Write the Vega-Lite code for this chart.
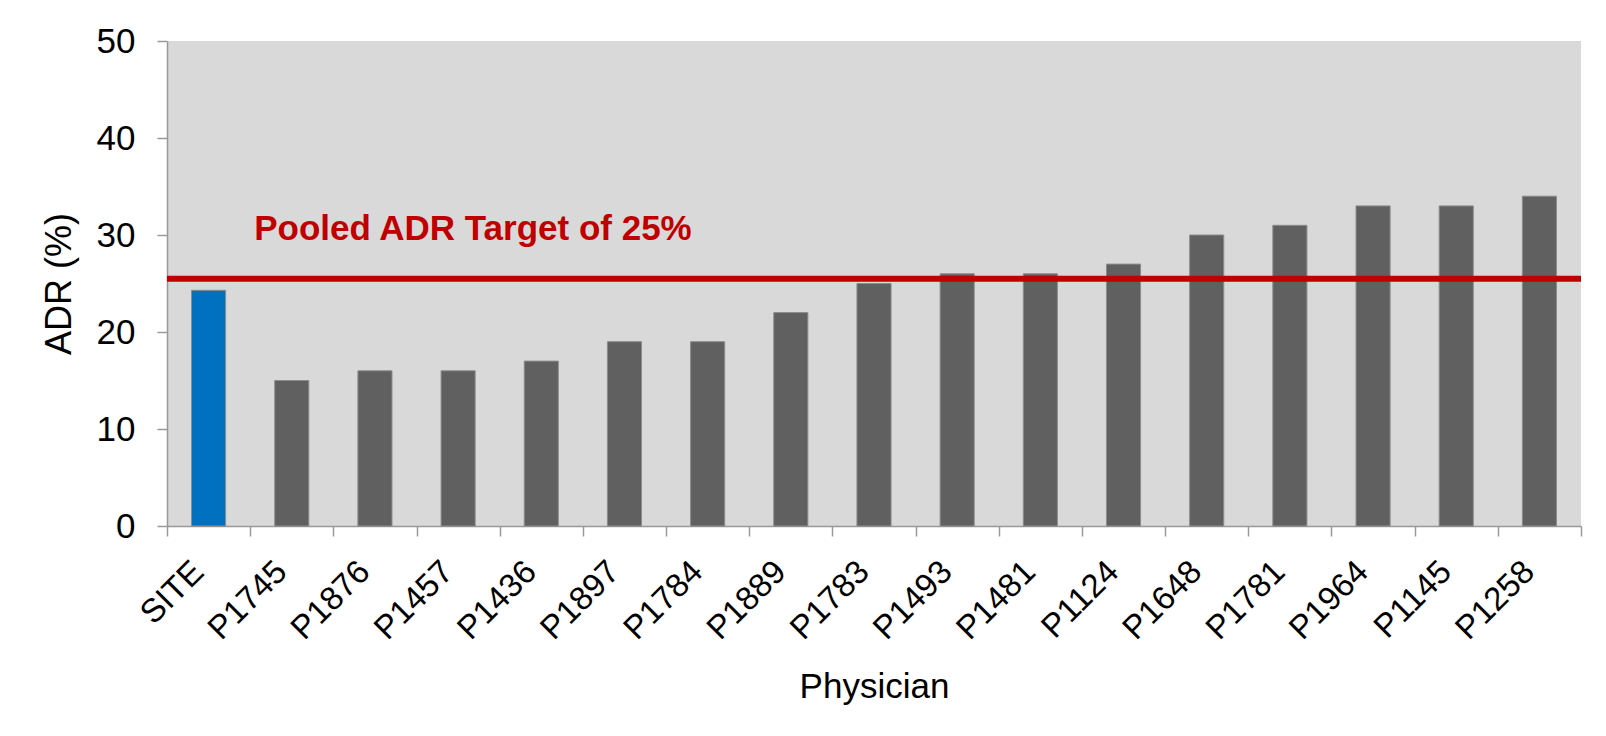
{
  "$schema": "https://vega.github.io/schema/vega-lite/v6.json",
  "autosize": {"type": "none"},
  "padding": {"left": 167, "top": 41, "right": 25, "bottom": 210},
  "width": 1414,
  "height": 485,
  "background": "white",
  "config": {
    "font": "Liberation Sans",
    "view": {"fill": "#d9d9d9", "stroke": null}
  },
  "datasets": {
    "bars": [
      {"physician": "SITE", "adr": 24.3, "group": "site"},
      {"physician": "P1745", "adr": 15, "group": "physician"},
      {"physician": "P1876", "adr": 16, "group": "physician"},
      {"physician": "P1457", "adr": 16, "group": "physician"},
      {"physician": "P1436", "adr": 17, "group": "physician"},
      {"physician": "P1897", "adr": 19, "group": "physician"},
      {"physician": "P1784", "adr": 19, "group": "physician"},
      {"physician": "P1889", "adr": 22, "group": "physician"},
      {"physician": "P1783", "adr": 25, "group": "physician"},
      {"physician": "P1493", "adr": 26, "group": "physician"},
      {"physician": "P1481", "adr": 26, "group": "physician"},
      {"physician": "P1124", "adr": 27, "group": "physician"},
      {"physician": "P1648", "adr": 30, "group": "physician"},
      {"physician": "P1781", "adr": 31, "group": "physician"},
      {"physician": "P1964", "adr": 33, "group": "physician"},
      {"physician": "P1145", "adr": 33, "group": "physician"},
      {"physician": "P1258", "adr": 34, "group": "physician"}
    ],
    "target": [{"value": 25.5}],
    "note": [{"label": "Pooled ADR Target of 25%", "physician": "P1745", "adr": 29.5}]
  },
  "layer": [
    {
      "data": {"name": "bars"},
      "mark": {"type": "bar", "width": {"band": 0.41}, "stroke": "#8c8c8c", "strokeWidth": 1},
      "encoding": {
        "x": {
          "field": "physician", "type": "nominal",
          "scale": {
            "domain": ["SITE", "P1745", "P1876", "P1457", "P1436", "P1897", "P1784", "P1889", "P1783", "P1493", "P1481", "P1124", "P1648", "P1781", "P1964", "P1145", "P1258"],
            "paddingInner": 0, "paddingOuter": 0
          },
          "axis": {
            "title": "Physician",
            "titleFontSize": 35, "titleFontWeight": "normal", "titleColor": "black",
            "titleY": 171, "titleBaseline": "alphabetic",
            "labelAngle": -45, "labelFontSize": 33, "labelColor": "black",
            "labelPadding": 19, "labelOffset": -22,
            "tickBand": "extent", "tickSize": 10, "tickColor": "#999999", "tickWidth": 1.5,
            "domainColor": "#999999", "domainWidth": 1.5
          }
        },
        "y": {
          "field": "adr", "type": "quantitative",
          "scale": {"domain": [0, 50], "nice": false},
          "axis": {
            "title": "ADR (%)",
            "values": [0, 10, 20, 30, 40, 50],
            "grid": false,
            "titleFontSize": 36, "titleFontWeight": "normal", "titleColor": "black",
            "titlePadding": 18,
            "labelFontSize": 35, "labelColor": "black", "labelPadding": 22,
            "tickSize": 10, "tickColor": "#999999", "tickWidth": 1.5,
            "domainColor": "#999999", "domainWidth": 1.5
          }
        },
        "color": {
          "field": "group", "type": "nominal",
          "scale": {"domain": ["site", "physician"], "range": ["#0070c0", "#606060"]},
          "legend": null
        }
      }
    },
    {
      "data": {"name": "target"},
      "mark": {"type": "rule", "color": "#c00000", "strokeWidth": 6},
      "encoding": {
        "y": {"field": "value", "type": "quantitative"}
      }
    },
    {
      "data": {"name": "note"},
      "mark": {"type": "text", "align": "left", "baseline": "alphabetic", "dx": 4, "fontSize": 35, "fontWeight": "bold", "color": "#c00000"},
      "encoding": {
        "x": {"field": "physician", "type": "nominal", "bandPosition": 0},
        "y": {"field": "adr", "type": "quantitative"},
        "text": {"field": "label"}
      }
    }
  ]
}
